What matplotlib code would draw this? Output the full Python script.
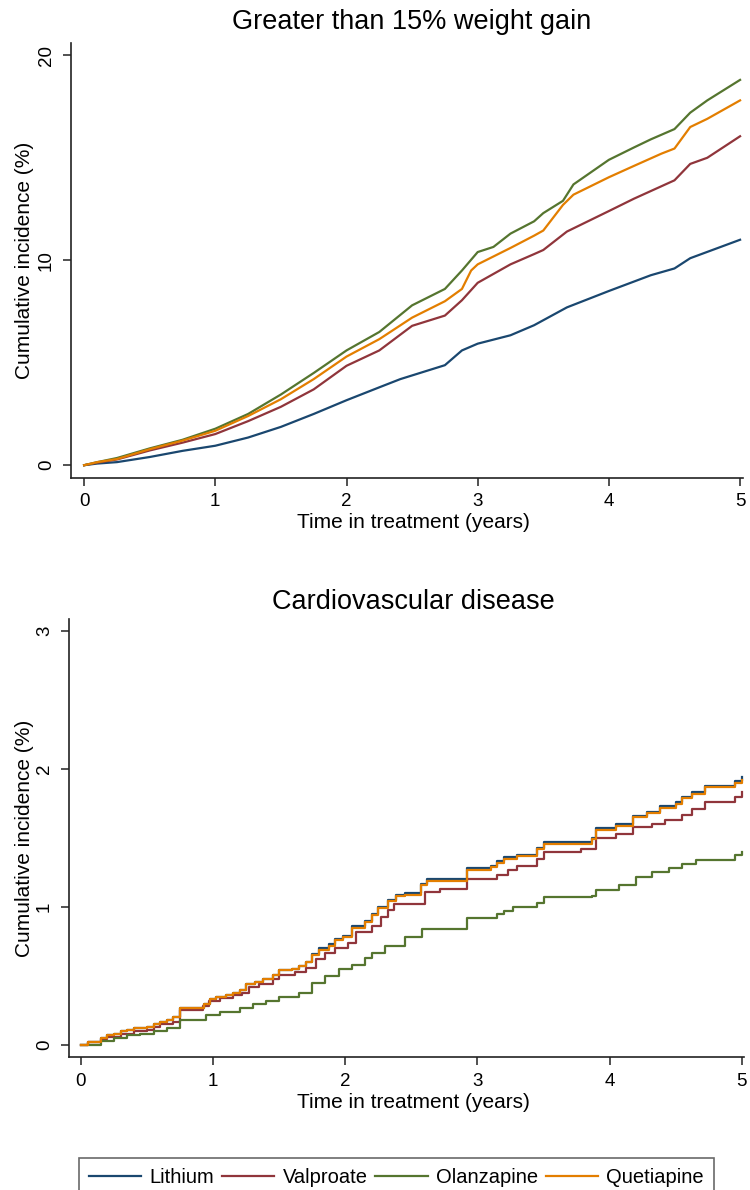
import numpy as np
import matplotlib
matplotlib.use('Agg')
import matplotlib.pyplot as plt

plt.rcParams['font.family'] = ['Liberation Sans', 'DejaVu Sans']

# colours (stata s2color)
c_lith = '#1a476f'
c_valp = '#90353b'
c_olan = '#55752f'
c_quet = '#e37e00'

# top panel: >15% weight gain
t_wg_lith = [0, 0.1, 0.25, 0.5, 0.75, 1, 1.25, 1.5, 1.75, 2, 2.25, 2.41, 2.75, 2.88,
             3.0, 3.25, 3.43, 3.68, 4.0, 4.32, 4.5, 4.62, 5.0]
wg_lith = [0, 0.08, 0.15, 0.4, 0.7, 0.95, 1.35, 1.87, 2.5, 3.17, 3.8, 4.2, 4.88, 5.6,
           5.93, 6.34, 6.83, 7.7, 8.5, 9.27, 9.6, 10.1, 11.0]
t_wg_valp = [0, 0.1, 0.25, 0.5, 0.75, 1, 1.25, 1.5, 1.75, 2, 2.25, 2.5, 2.75, 2.88,
             3.0, 3.25, 3.43, 3.5, 3.68, 4.0, 4.19, 4.5, 4.62, 4.75, 5.0]
wg_valp = [0, 0.12, 0.28, 0.72, 1.1, 1.52, 2.15, 2.85, 3.7, 4.85, 5.6, 6.8, 7.3, 8.05,
           8.9, 9.8, 10.3, 10.5, 11.4, 12.4, 13.0, 13.9, 14.7, 15.0, 16.05]
t_wg_olan = [0, 0.1, 0.25, 0.5, 0.75, 1, 1.25, 1.5, 1.75, 2, 2.25, 2.5, 2.75, 2.88,
             3.0, 3.12, 3.25, 3.43, 3.5, 3.65, 3.73, 4.0, 4.19, 4.32, 4.5, 4.62, 4.75, 5.0]
wg_olan = [0, 0.15, 0.35, 0.82, 1.24, 1.78, 2.5, 3.45, 4.5, 5.6, 6.5, 7.8, 8.6, 9.5,
           10.4, 10.65, 11.3, 11.9, 12.3, 12.9, 13.7, 14.9, 15.5, 15.9, 16.4, 17.2, 17.8, 18.8]
t_wg_quet = [0, 0.1, 0.25, 0.5, 0.75, 1, 1.25, 1.5, 1.75, 2, 2.25, 2.5, 2.75, 2.88,
             2.95, 3.0, 3.25, 3.43, 3.5, 3.65, 3.73, 4.0, 4.19, 4.4, 4.5, 4.62, 4.75, 5.0]
wg_quet = [0, 0.15, 0.3, 0.78, 1.2, 1.68, 2.4, 3.22, 4.2, 5.3, 6.15, 7.2, 8.0, 8.6,
           9.5, 9.8, 10.6, 11.2, 11.45, 12.7, 13.2, 14.05, 14.6, 15.2, 15.45, 16.5, 16.9, 17.8]

# bottom panel: cardiovascular disease, step functions
t_cv_lith = [0, 0.05, 0.15, 0.2, 0.25, 0.3, 0.35, 0.4, 0.5, 0.55, 0.6, 0.65, 0.7, 0.75,
             0.93, 0.98, 1.02, 1.1, 1.15, 1.2, 1.25, 1.32, 1.38, 1.45, 1.5, 1.6, 1.65,
             1.7, 1.75, 1.8, 1.88, 1.92, 1.98, 2.05, 2.15, 2.2, 2.25, 2.32, 2.38, 2.45,
             2.57, 2.62, 2.92, 3.1, 3.15, 3.2, 3.3, 3.45, 3.5, 3.87, 3.9, 4.05, 4.18,
             4.28, 4.38, 4.5, 4.55, 4.62, 4.72, 4.95, 5.0]
cv_lith = [0, 0.02, 0.05, 0.07, 0.08, 0.1, 0.11, 0.12, 0.13, 0.15, 0.17, 0.18, 0.2, 0.27,
           0.3, 0.33, 0.35, 0.36, 0.38, 0.4, 0.44, 0.46, 0.48, 0.51, 0.54, 0.55, 0.57,
           0.6, 0.66, 0.7, 0.73, 0.77, 0.79, 0.86, 0.9, 0.95, 1.0, 1.05, 1.09, 1.1,
           1.17, 1.2, 1.28, 1.3, 1.33, 1.36, 1.38, 1.43, 1.47, 1.5, 1.57, 1.6, 1.66,
           1.69, 1.73, 1.76, 1.8, 1.83, 1.88, 1.91, 1.94]
cv_quet = [0, 0.02, 0.05, 0.07, 0.08, 0.1, 0.11, 0.12, 0.13, 0.15, 0.17, 0.18, 0.2, 0.27,
           0.3, 0.33, 0.35, 0.36, 0.38, 0.4, 0.44, 0.46, 0.48, 0.51, 0.54, 0.55, 0.57,
           0.6, 0.65, 0.69, 0.72, 0.76, 0.78, 0.85, 0.89, 0.94, 0.99, 1.04, 1.08, 1.09,
           1.16, 1.19, 1.27, 1.29, 1.32, 1.35, 1.37, 1.42, 1.46, 1.49, 1.56, 1.59, 1.65,
           1.68, 1.72, 1.75, 1.79, 1.82, 1.87, 1.9, 1.92]
t_cv_valp = [0, 0.05, 0.15, 0.2, 0.3, 0.4, 0.5, 0.55, 0.6, 0.7, 0.75, 0.92, 0.97, 1.05,
             1.15, 1.22, 1.27, 1.35, 1.45, 1.5, 1.62, 1.7, 1.78, 1.85, 1.92, 2.02, 2.08,
             2.2, 2.27, 2.32, 2.37, 2.6, 2.72, 2.92, 3.15, 3.23, 3.3, 3.45, 3.5, 3.78,
             3.9, 4.05, 4.18, 4.32, 4.42, 4.55, 4.62, 4.72, 4.95, 5.0]
cv_valp = [0, 0.02, 0.04, 0.06, 0.08, 0.1, 0.11, 0.13, 0.15, 0.17, 0.25, 0.28, 0.32, 0.34,
           0.36, 0.38, 0.42, 0.44, 0.48, 0.51, 0.53, 0.56, 0.62, 0.67, 0.7, 0.74, 0.82,
           0.86, 0.93, 0.98, 1.02, 1.11, 1.13, 1.2, 1.23, 1.27, 1.3, 1.35, 1.4, 1.42,
           1.5, 1.53, 1.58, 1.6, 1.63, 1.67, 1.71, 1.76, 1.8, 1.83]
t_cv_olan = [0, 0.15, 0.25, 0.35, 0.45, 0.55, 0.65, 0.75, 0.95, 1.05, 1.2, 1.3, 1.4, 1.5,
             1.65, 1.75, 1.85, 1.95, 2.05, 2.15, 2.2, 2.3, 2.45, 2.58, 2.92, 3.15, 3.2,
             3.27, 3.45, 3.5, 3.87, 3.9, 4.07, 4.2, 4.32, 4.45, 4.55, 4.65, 4.95, 5.0]
cv_olan = [0, 0.03, 0.05, 0.07, 0.08, 0.1, 0.12, 0.18, 0.22, 0.24, 0.27, 0.3, 0.32, 0.35,
           0.38, 0.45, 0.5, 0.55, 0.58, 0.63, 0.67, 0.72, 0.78, 0.84, 0.92, 0.95, 0.97,
           1.0, 1.03, 1.07, 1.08, 1.12, 1.16, 1.22, 1.25, 1.28, 1.31, 1.34, 1.38, 1.4]

labels = ['Lithium', 'Valproate', 'Olanzapine', 'Quetiapine']
xticks = [0, 1, 2, 3, 4, 5]

W, H = 750, 1190
fig = plt.figure(figsize=(7.5, 11.9), dpi=100)


def make_ax(l, r, top, bot):
    return fig.add_axes([l / W, 1 - bot / H, (r - l) / W, (bot - top) / H])


def style(ax, yticks):
    for s in ['top', 'right']:
        ax.spines[s].set_visible(False)
    for s in ['left', 'bottom']:
        ax.spines[s].set_linewidth(1.2)
        ax.spines[s].set_color('#222222')
    ax.set_xticks(xticks)
    ax.set_yticks(yticks)
    ax.tick_params(direction='out', length=5.5, width=1.1, color='#222222',
                   labelsize=13.5, pad=6)
    for lab in ax.get_yticklabels():
        lab.set_rotation(90)
        lab.set_va('center')


lw = 1.6
ax1 = make_ax(71, 742.7, 43, 477.5)
ax1.plot(t_wg_lith, wg_lith, color=c_lith, lw=lw, label=labels[0])
ax1.plot(t_wg_valp, wg_valp, color=c_valp, lw=lw, label=labels[1])
ax1.plot(t_wg_olan, wg_olan, color=c_olan, lw=lw, label=labels[2])
ax1.plot(t_wg_quet, wg_quet, color=c_quet, lw=lw, label=labels[3])
ax1.set_xlim(-0.1, 5.02)
ax1.set_ylim(-0.6, 20.6)
style(ax1, [0, 10, 20])

ax2 = make_ax(69, 744.5, 619, 1057)
ax2.plot(t_cv_lith, cv_lith, color=c_lith, lw=lw, drawstyle='steps-post')
ax2.plot(t_cv_valp, cv_valp, color=c_valp, lw=lw, drawstyle='steps-post')
ax2.plot(t_cv_olan, cv_olan, color=c_olan, lw=lw, drawstyle='steps-post')
ax2.plot(t_cv_lith, cv_quet, color=c_quet, lw=lw, drawstyle='steps-post')
ax2.set_xlim(-0.09, 5.02)
ax2.set_ylim(-0.087, 3.087)
style(ax2, [0, 1, 2, 3])

# titles and axis labels
fig.text(412 / W, 1 - 22 / H, 'Greater than 15% weight gain', fontsize=19.5,
         ha='center', va='center')
fig.text(413 / W, 1 - 602 / H, 'Cardiovascular disease', fontsize=19.5,
         ha='center', va='center')
fig.text(413 / W, 1 - 522 / H, 'Time in treatment (years)', fontsize=15,
         ha='center', va='center')
fig.text(413 / W, 1 - 1102 / H, 'Time in treatment (years)', fontsize=15,
         ha='center', va='center')
fig.text(25 / W, 1 - 260 / H, 'Cumulative incidence (%)', fontsize=15,
         ha='center', va='center', rotation=90)
fig.text(25 / W, 1 - 838 / H, 'Cumulative incidence (%)', fontsize=15,
         ha='center', va='center', rotation=90)

leg = fig.legend(*ax1.get_legend_handles_labels(), loc='upper left',
                 bbox_to_anchor=(78.7 / W, 1 - 1158 / H), ncol=4, fontsize=14.5,
                 frameon=True, fancybox=False, handlelength=2.6, handletextpad=0.4,
                 columnspacing=0.4, borderaxespad=0, borderpad=0.5)
leg.get_frame().set_edgecolor('#444444')
leg.get_frame().set_linewidth(1.2)

plt.savefig('out.png', dpi=100)
